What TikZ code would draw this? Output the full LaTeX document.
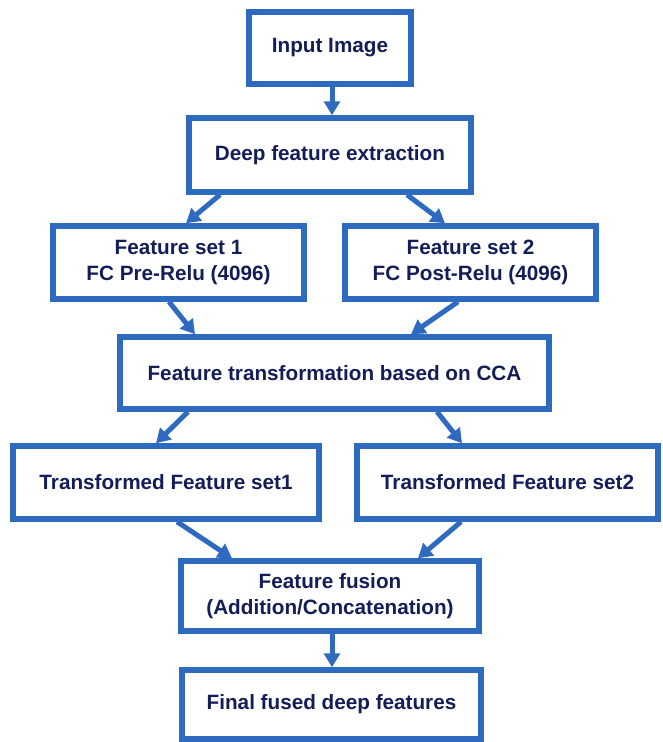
\documentclass[tikz,border=0pt]{standalone}
\usepackage{fontspec}
\setmainfont{Liberation Sans}
\usetikzlibrary{arrows.meta}
\definecolor{boxblue}{HTML}{2E6BC0}
\definecolor{txtnavy}{HTML}{131E58}
\begin{document}
\begin{tikzpicture}[x=1pt,y=-1pt,
  box/.style={draw=boxblue,line width=5.5pt,fill=white,rectangle,inner sep=0pt,
    text=txtnavy,font=\fontsize{20.7}{26}\selectfont\bfseries,align=center},
  arr/.style={draw=boxblue,line width=5pt,-{Triangle[length=14pt,width=16pt]}}]
\useasboundingbox (0,0) rectangle (662,742);
\node[box,minimum width=162pt,minimum height=72pt] (b1) at (330,48) {Input Image};
\node[box,minimum width=282pt,minimum height=74pt] (b2) at (330,155) {Deep feature extraction};
\node[box,minimum width=251pt,minimum height=73pt] (b3) at (178.5,262.5) {Feature set 1\\FC Pre-Relu (4096)};
\node[box,minimum width=251pt,minimum height=73pt] (b4) at (470.5,262.5) {Feature set 2\\FC Post-Relu (4096)};
\node[box,minimum width=429pt,minimum height=72pt] (b5) at (334.5,373) {Feature transformation based on CCA};
\node[box,minimum width=306pt,minimum height=73pt] (b6) at (166,482.5) {Transformed Feature set1};
\node[box,minimum width=301pt,minimum height=73pt] (b7) at (507.5,482.5) {Transformed Feature set2};
\node[box,minimum width=298pt,minimum height=70pt] (b8) at (330,596) {Feature fusion\\(Addition/Concatenation)};
\node[box,minimum width=299pt,minimum height=69pt] (b9) at (331.5,704.5) {Final fused deep features};
\draw[arr] ([xshift=2pt]b1.south) -- ([xshift=2pt]b2.north);
\draw[arr] ([xshift=-110pt]b2.south) -- ([xshift=7.5pt]b3.north);
\draw[arr] ([xshift=77pt]b2.south) -- ([xshift=-25.5pt]b4.north);
\draw[arr] ([xshift=-9.5pt]b3.south) -- ([xshift=-139.5pt]b5.north);
\draw[arr] ([xshift=-12.5pt]b4.south) -- ([xshift=76.5pt]b5.north);
\draw[arr] ([xshift=-146.5pt]b5.south) -- ([xshift=-10pt]b6.north);
\draw[arr] ([xshift=102.5pt]b5.south) -- ([xshift=-45.5pt]b7.north);
\draw[arr] ([xshift=11pt]b6.south) -- ([xshift=-98pt]b8.north);
\draw[arr] ([xshift=-46.5pt]b7.south) -- ([xshift=88pt]b8.north);
\draw[arr] ([xshift=2pt]b8.south) -- ([xshift=0.5pt]b9.north);
\end{tikzpicture}
\end{document}
